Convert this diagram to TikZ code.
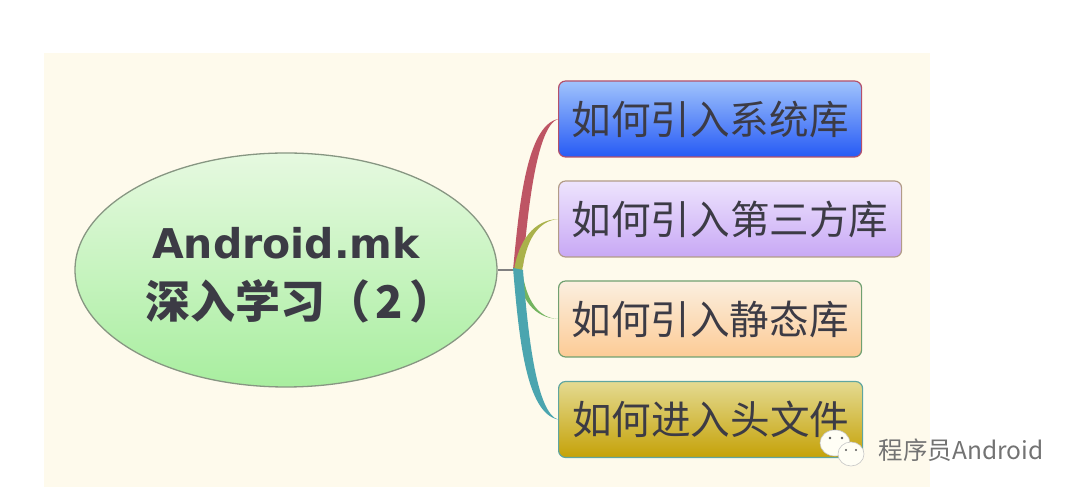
\documentclass[tikz,border=0pt]{standalone}
\usepackage{fontspec}
\usetikzlibrary{shapes.geometric}
\setmainfont{Noto Sans CJK SC}
\newfontfamily\latinbold[Scale=1]{DejaVu Sans}
\definecolor{inkc}{HTML}{3C3B45}
\definecolor{pagebg}{HTML}{FEFAEC}
\tikzset{
  x=1pt,y=1pt,
  topic/.style={draw,line width=1.2pt,rounded corners=7pt,inner sep=0pt,anchor=west,
    text=inkc,font=\fontsize{39.6}{44}\selectfont,minimum height=76pt,align=center},
  branch/.style={draw=none},
  wmbubble/.style={fill=white!96!yellow,draw=gray!45,line width=0.6pt},
  wmeye/.style={fill=black!65,draw=none}
}
\begin{document}
\begin{tikzpicture}
\useasboundingbox (0,0) rectangle (1080,498);
\fill[white] (0,0) rectangle (1080,498);
\fill[pagebg] (44,11) rectangle (930,445);

\node[ellipse,draw={rgb,255:red,135;green,150;blue,130},line width=1.3pt,inner sep=0pt,
  minimum width=422pt,minimum height=234pt,
  top color={rgb,255:red,230;green,249;blue,224},bottom color={rgb,255:red,168;green,238;blue,159},
  text=inkc,align=center,font=\fontsize{45}{60}\selectfont\bfseries] (e) at (286,228)
  {\rule{0pt}{42pt}{\fontsize{41}{60}\selectfont\latinbold Android.mk}\\
   \makebox[282pt][l]{深入学习（\hspace{6pt}2\hspace{6pt}）}};

\node[topic,draw={rgb,255:red,180;green,80;blue,106},
  top color={rgb,255:red,160;green,195;blue,252},bottom color={rgb,255:red,38;green,90;blue,245},
  minimum width=303pt] (b1) at (558,379) {如何引入系统库};
\node[topic,draw={rgb,255:red,178;green,155;blue,135},
  top color={rgb,255:red,238;green,228;blue,253},bottom color={rgb,255:red,200;green,168;blue,245},
  minimum width=343pt] (b2) at (558,279) {如何引入第三方库};
\node[topic,draw={rgb,255:red,112;green,160;blue,112},
  top color={rgb,255:red,251;green,239;blue,224},bottom color={rgb,255:red,252;green,203;blue,149},
  minimum width=303pt] (b3) at (558,179) {如何引入静态库};
\node[topic,draw={rgb,255:red,95;green,165;blue,160},
  top color={rgb,255:red,228;green,218;blue,145},bottom color={rgb,255:red,197;green,162;blue,8},
  minimum width=304pt] (b4) at (558,78.5) {如何进入头文件};

\coordinate (hub) at (516,228);
\draw[gray,line width=1.2pt] (e.east) -- (hub);

\fill[branch,fill={rgb,255:red,190;green,85;blue,100}]
  (hub) ++(-3,0) .. controls (519,290) and (526,372) .. (b1.west)
  .. controls (537,372) and (528,290) .. (523,232) -- cycle;
\fill[branch,fill={rgb,255:red,170;green,178;blue,75}]
  (hub) ++(-2,0) .. controls (519,258) and (534,278) .. (b2.west)
  .. controls (538,277) and (526,258) .. (522,226) -- cycle;
\fill[branch,fill={rgb,255:red,115;green,180;blue,95}]
  (hub) ++(1,0) .. controls (520,198) and (535,180) .. (b3.west)
  .. controls (538,180) and (526,198) .. (522,228) -- cycle;
\fill[branch,fill={rgb,255:red,75;green,165;blue,175}]
  (hub) ++(-3,2) .. controls (519,160) and (526,85) .. (b4.west)
  .. controls (537,85) and (528,160) .. (523,228) -- cycle;

\node[font=\fontsize{24.5}{28}\selectfont,text=black!55,inner sep=0pt] (wm) at (961,48) {程序员Android};

\node[ellipse,wmbubble,minimum width=30pt,minimum height=26pt,inner sep=0pt] (bb) at (835,55) {};
\node[ellipse,wmbubble,minimum width=26pt,minimum height=24pt,inner sep=0pt] (bs) at (851,44) {};
\node[circle,wmeye,minimum size=2.6pt,inner sep=0pt] (eye1) at (830,60) {};
\node[circle,wmeye,minimum size=2.6pt,inner sep=0pt] (eye2) at (842,60) {};
\node[circle,wmeye,minimum size=2.2pt,inner sep=0pt] (eye3) at (846,48) {};
\node[circle,wmeye,minimum size=2.2pt,inner sep=0pt] (eye4) at (856,48) {};
\end{tikzpicture}
\end{document}
